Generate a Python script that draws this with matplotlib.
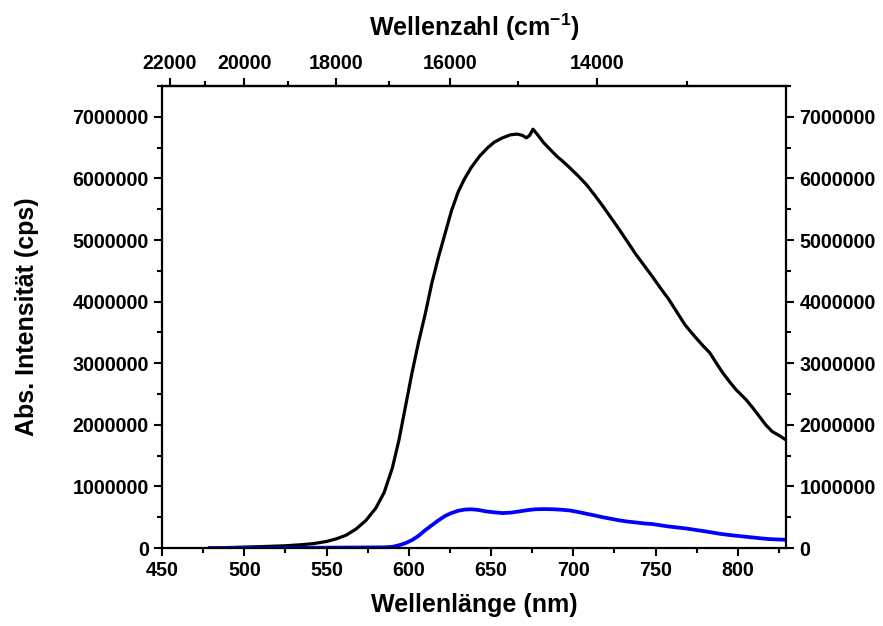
import matplotlib
matplotlib.use("Agg")
import matplotlib.pyplot as plt
from matplotlib.ticker import MultipleLocator, FixedLocator, FuncFormatter

plt.rcParams['font.family'] = ['Liberation Sans', 'DejaVu Sans']
plt.rcParams['font.weight'] = 'bold'
plt.rcParams['mathtext.fontset'] = 'custom'
plt.rcParams['mathtext.rm'] = 'Liberation Sans:bold'
plt.rcParams['mathtext.bf'] = 'Liberation Sans:bold'
plt.rcParams['mathtext.default'] = 'bf'

# black spectrum (wavelength nm, counts per second in millions)
black_nm = [479, 490, 500, 512, 525, 535, 542, 550, 556, 562, 568, 574, 580, 585,
            590, 594, 598, 602, 606, 610, 614, 618, 622, 626, 630, 634, 638, 643,
            648, 652, 657, 662, 666, 669, 671.5, 673.5, 675.5, 678, 682, 686, 690,
            694, 698, 703, 708, 713, 718, 723, 728, 733, 738, 743, 748, 753, 758,
            763, 768, 774, 779, 783, 787, 791, 795, 799, 805, 809, 813, 817, 821,
            825, 829]
black_cps = [0.0, 0.008, 0.016, 0.025, 0.037, 0.055, 0.072, 0.107, 0.15, 0.21, 0.31,
             0.45, 0.65, 0.9, 1.3, 1.75, 2.3, 2.85, 3.35, 3.8, 4.3, 4.72, 5.1, 5.48,
             5.78, 6.0, 6.18, 6.36, 6.5, 6.59, 6.66, 6.71, 6.72, 6.70, 6.66, 6.70,
             6.80, 6.72, 6.58, 6.47, 6.36, 6.27, 6.17, 6.04, 5.90, 5.73, 5.55, 5.36,
             5.17, 4.97, 4.77, 4.59, 4.41, 4.22, 4.04, 3.83, 3.62, 3.43, 3.28, 3.17,
             3.0, 2.84, 2.70, 2.57, 2.41, 2.28, 2.14, 2.0, 1.89, 1.83, 1.76]

# blue spectrum
blue_nm = [479, 520, 560, 585, 590, 594, 598, 602, 606, 610, 614, 618, 622, 626,
           630, 634, 638, 642, 647, 652, 657, 662, 667, 672, 677, 683, 688, 693,
           698, 703, 708, 713, 718, 723, 728, 733, 738, 743, 748, 753, 758, 763,
           768, 773, 779, 784, 789, 794, 799, 804, 809, 814, 819, 824, 829]
blue_cps = [0.0, 0.003, 0.008, 0.012, 0.02, 0.045, 0.08, 0.13, 0.2, 0.29, 0.37,
            0.45, 0.52, 0.57, 0.605, 0.625, 0.63, 0.62, 0.595, 0.58, 0.568, 0.575,
            0.594, 0.615, 0.63, 0.633, 0.63, 0.622, 0.61, 0.585, 0.557, 0.53, 0.50,
            0.475, 0.45, 0.43, 0.416, 0.40, 0.39, 0.37, 0.35, 0.335, 0.32, 0.30,
            0.276, 0.255, 0.232, 0.215, 0.2, 0.186, 0.172, 0.158, 0.146, 0.14, 0.135]

black_cps = [v * 1e6 for v in black_cps]
blue_cps = [v * 1e6 for v in blue_cps]

top_major = [22000, 20000, 18000, 16000, 14000]
top_minor = [21000, 19000, 17000, 15000, 13000]

fig = plt.figure(figsize=(8.83, 6.26), dpi=100)
ax = fig.add_axes([0.1835, 0.1245, 0.707, 0.738])

ax.plot(black_nm, black_cps, color='black', lw=2.3)
ax.plot(blue_nm, blue_cps, color='#0000ff', lw=2.7)

ax.set_xlim(450, 829.5)
ax.set_ylim(0, 7.5e6)
ax.xaxis.set_major_locator(MultipleLocator(50))
ax.xaxis.set_minor_locator(MultipleLocator(25))
ax.yaxis.set_major_locator(MultipleLocator(1e6))
ax.yaxis.set_minor_locator(MultipleLocator(5e5))
ax.yaxis.set_major_formatter(FuncFormatter(lambda v, p: f"{int(round(v))}"))

ax.tick_params(which='both', direction='out', width=1.5, labelsize=14.2,
               left=True, right=True, labelleft=True, labelright=True)
ax.tick_params(which='major', length=6)
ax.tick_params(which='minor', length=3.5)
for s in ax.spines.values():
    s.set_linewidth(1.6)

ax.set_xlabel("Wellenlänge (nm)", fontsize=18, fontweight='bold', labelpad=9)
ax.set_ylabel("Abs. Intensität (cps)", fontsize=18, fontweight='bold', labelpad=24)

top = ax.secondary_xaxis('top', functions=(lambda x: 1e7 / x, lambda x: 1e7 / x))
top.xaxis.set_major_locator(FixedLocator(top_major))
top.xaxis.set_minor_locator(FixedLocator(top_minor))
top.xaxis.set_major_formatter(FuncFormatter(lambda v, p: f"{int(round(v))}"))
top.tick_params(which='both', direction='out', width=1.5, labelsize=14.2)
top.tick_params(which='major', length=6)
top.tick_params(which='minor', length=3.5)
top.spines['top'].set_linewidth(1.6)
top.set_xlabel("Wellenzahl (cm$^{-1}$)", fontsize=18, fontweight='bold', labelpad=13)

fig.savefig("out.png", dpi=100)
